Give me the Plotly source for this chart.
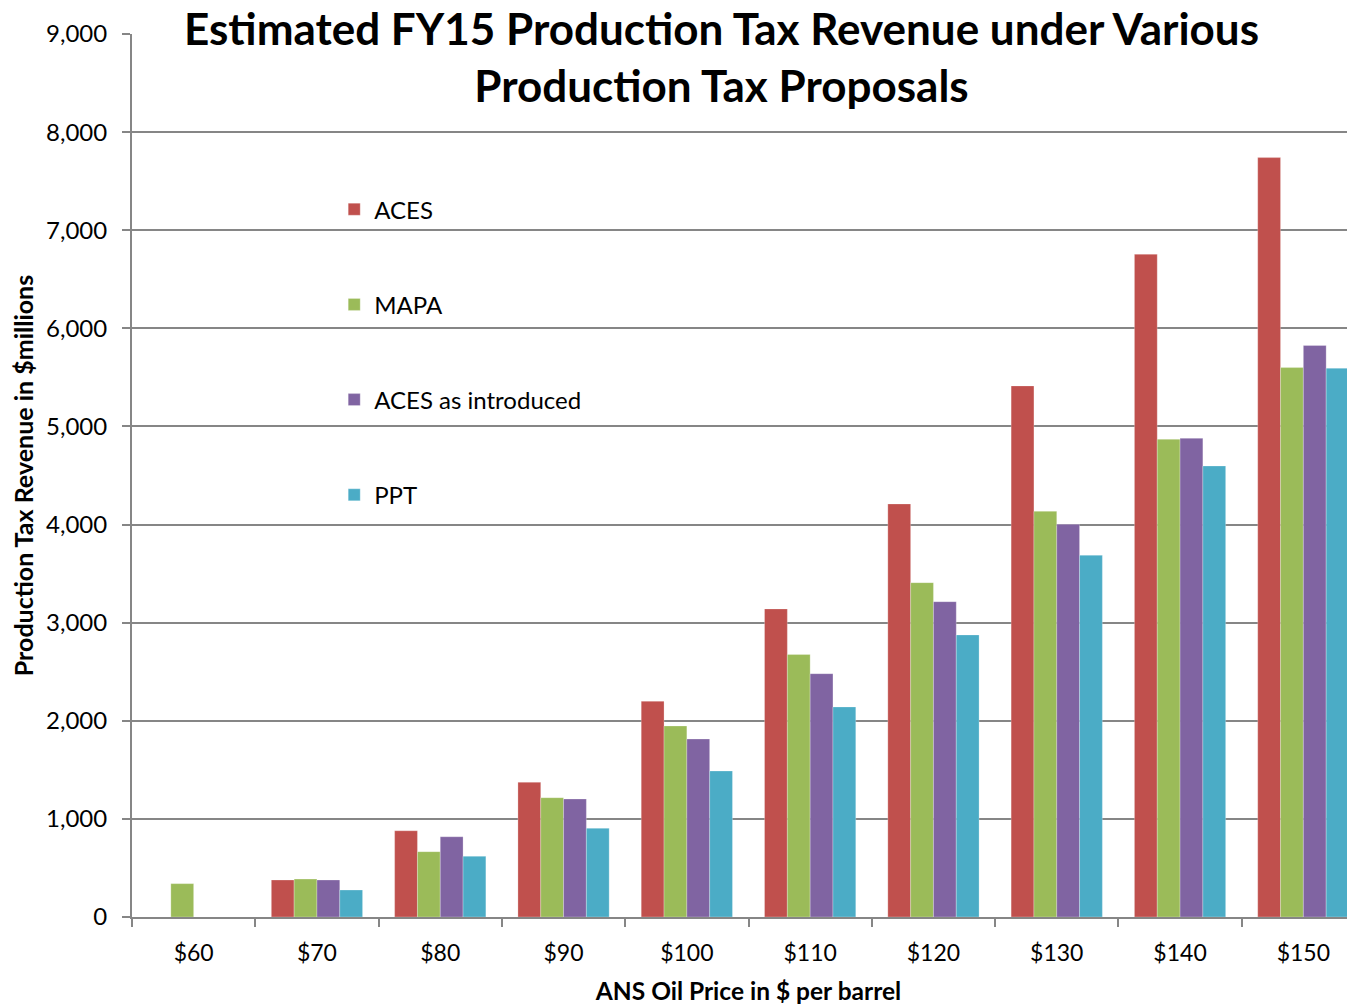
import plotly.graph_objects as go

categories = ["$60", "$70", "$80", "$90", "$100", "$110", "$120", "$130", "$140", "$150"]
aces = [None, 377, 879, 1373, 2199, 3140, 4210, 5413, 6755, 7740]
mapa = [340, 387, 666, 1216, 1947, 2675, 3408, 4135, 4869, 5600]
aces_intro = [None, 377, 818, 1203, 1814, 2480, 3214, 4002, 4879, 5825]
ppt = [None, 275, 619, 904, 1488, 2141, 2875, 3687, 4597, 5593]

series = [
    ("ACES", aces, "#C0504D"),
    ("MAPA", mapa, "#9BBB59"),
    ("ACES as introduced", aces_intro, "#8064A2"),
    ("PPT", ppt, "#4BACC6"),
]

FONT = "Lato, Carlito, Calibri, sans-serif"
GRID = "#868686"

fig = go.Figure()
for i, (name, vals, color) in enumerate(series):
    fig.add_trace(go.Bar(
        x=categories, y=vals, name=name, legendgroup=f"g{i}",
        marker=dict(color=color, line=dict(color="rgba(255,255,255,0.5)", width=0.5)),
    ))

fig.update_layout(
    width=1357, height=997,
    margin=dict(l=124, r=0, t=26, b=88),
    paper_bgcolor="white", plot_bgcolor="white",
    font=dict(family=FONT, color="black", size=20),
    barmode="group", bargap=0.26, bargroupgap=0,
    showlegend=True,
    legend=dict(
        x=0.164, y=0.8266, xanchor="left", yanchor="top",
        bgcolor="rgba(0,0,0,0)", font=dict(size=24, family=FONT),
        tracegroupgap=61, itemwidth=30, traceorder="grouped",
    ),
    xaxis=dict(
        type="category", tickson="boundaries", ticks="outside", ticklen=8,
        tickcolor=GRID, tickwidth=2, showline=True, linecolor=GRID, linewidth=2,
        showgrid=False, tickfont=dict(size=23), ticklabelstandoff=14,
        title=dict(text="<b>ANS Oil Price in $ per barrel</b>", font=dict(size=24.5), standoff=20),
    ),
    yaxis=dict(
        range=[0, 9000], tickvals=list(range(0, 9001, 1000)),
        tickformat=",d", ticks="outside", ticklen=8, tickcolor=GRID, tickwidth=2,
        showline=True, linecolor=GRID, linewidth=2,
        showgrid=True, gridcolor=GRID, gridwidth=1.5, zeroline=False,
        tickfont=dict(size=24), ticklabelstandoff=10,
        title=dict(text="<b>Production Tax Revenue in $millions</b>", font=dict(size=25), standoff=12),
    ),
    annotations=[dict(
        text="<b>Estimated FY15 Production Tax Revenue under Various<br>Production Tax Proposals</b>",
        xref="paper", yref="paper", x=0.4777, y=0.975, xanchor="center", yanchor="middle",
        showarrow=False, font=dict(size=44, family=FONT, color="black"),
        bgcolor="white", borderpad=0, align="center",
    )],
)

fig.write_html("out.html")
